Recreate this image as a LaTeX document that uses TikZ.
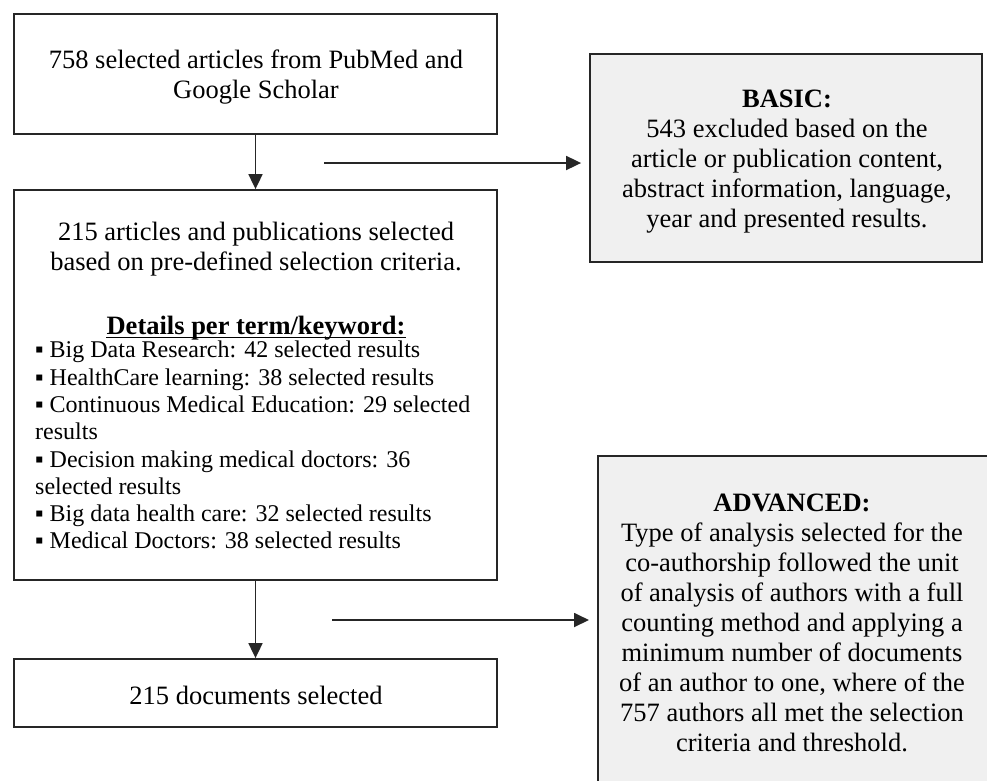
\documentclass[tikz,border=0pt]{standalone}
\usepackage{fontspec}
\setmainfont{Liberation Serif}
\usetikzlibrary{arrows.meta}
\begin{document}
\begin{tikzpicture}[x=1pt,y=-1pt,
  box/.style={draw=black!85, line width=1.8pt, rectangle, inner sep=0pt, fill=white},
  graybox/.style={box, fill=black!6},
  txt/.style={font=\fontsize{26.5}{30}\selectfont, align=center, inner sep=0pt},
  listtxt/.style={font=\fontsize{24}{27.3}\selectfont, align=left, inner sep=0pt},
  arr/.style={line width=1.8pt, draw=black!85, -{Triangle[length=15pt,width=14pt]}}]
\useasboundingbox (0,0) rectangle (987,780);
\clip (0,0) rectangle (987,780);
% left column
\node[box, minimum width=483pt, minimum height=120pt] (top) at (255.5,74) {};
\node[txt] (toptext) at (256,77)
  {758 selected articles from PubMed and\\Google Scholar};
\node[box, minimum width=483pt, minimum height=390pt] (mid) at (255.5,385) {};
\node[txt] (midhead) at (256,249)
  {215 articles and publications selected\\based on pre-defined selection criteria.};
\node[txt, anchor=base] (details) at (256,334) {\textbf{Details per term/keyword:}};
\draw[line width=1.4pt] ([yshift=-3.5pt]details.base west) -- ([yshift=-3.5pt]details.base east);
\node[listtxt, anchor=north west] (list) at (35,341)
  {▪ Big Data Research: 42 selected results\\
   ▪ HealthCare learning: 38 selected results\\
   ▪ Continuous Medical Education: 29 selected\\
   results\\
   ▪ Decision making medical doctors: 36\\
   selected results\\
   ▪ Big data health care: 32 selected results\\
   ▪ Medical Doctors: 38 selected results};
\node[box, minimum width=483pt, minimum height=68pt] (bot) at (255.5,693) {};
\node[txt] (bottext) at (256,695) {215 documents selected};
% right column
\node[graybox, minimum width=392pt, minimum height=208pt] (basic) at (786,158) {};
\node[txt] (basictext) at (787,162)
  {\textbf{BASIC:}\\543 excluded based on the\\article or publication content,\\abstract information, language,\\year and presented results.};
\node[graybox, minimum width=405pt, minimum height=345pt, anchor=north west] (adv) at (597,455) {};
\node[txt] (advtext) at (792,623)
  {\textbf{ADVANCED:}\\Type of analysis selected for the\\co-authorship followed the unit\\of analysis of authors with a full\\counting method and applying a\\minimum number of documents\\of an author to one, where of the\\757 authors all met the selection\\criteria and threshold.};
% connectors
\coordinate (s1) at (324,163);
\coordinate (s2) at (332,620);
\draw[arr] (top.south) -- (mid.north);
\draw[arr] (mid.south) -- (bot.north);
\draw[arr, shorten >=8pt] (s1) -- (s1 -| basic.west);
\draw[arr, shorten >=8pt] (s2) -- (s2 -| adv.west);
\end{tikzpicture}
\end{document}
